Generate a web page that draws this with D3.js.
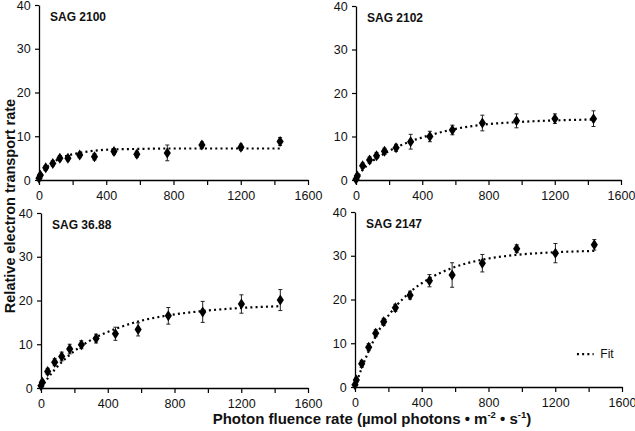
<!DOCTYPE html>
<html><head><meta charset="utf-8">
<script src="https://cdn.jsdelivr.net/npm/d3@7"></script>
<style>body{margin:0;background:#fff}svg{display:block}</style>
</head><body>
<svg id="c" width="635" height="431"></svg>
<script>
const xVals = [0, 8, 40, 82, 124, 172, 242, 330, 446, 582, 763, 969, 1201, 1434];
const fitX = [0, 40, 82, 124, 172, 242, 330, 446, 582, 763, 969, 1201, 1434];
const panelNames = ["SAG 2100", "SAG 2102", "SAG 36.88", "SAG 2147"];
const yS2100 = [0.4, 1.1, 2.8, 3.8, 5.0, 5.0, 5.7, 5.3, 6.5, 5.9, 6.2, 8.0, 7.5, 8.8];
const eS2100 = [0.3, 0.4, 0.5, 0.6, 0.6, 0.6, 0.6, 0.7, 0.7, 0.7, 1.8, 0.7, 0.7, 0.9];
const fS2100 = [0, 2.6, 4.0, 4.9, 5.6, 6.2, 6.7, 7.0, 7.1, 7.2, 7.2, 7.2, 7.2];
const yS2102 = [0.2, 0.9, 3.3, 4.6, 5.6, 6.6, 7.4, 8.8, 10.0, 11.5, 13.1, 13.6, 14.1, 14.1];
const eS2102 = [0.3, 0.5, 0.6, 0.7, 0.7, 0.7, 0.8, 1.7, 1.2, 1.1, 1.8, 1.6, 1.1, 1.8];
const fS2102 = [0, 2.3, 3.8, 5.0, 6.1, 7.5, 8.9, 10.3, 11.6, 12.7, 13.3, 13.7, 13.9];
const yS3688 = [0.5, 1.3, 3.8, 5.9, 7.2, 8.9, 9.9, 11.3, 12.4, 13.4, 16.5, 17.4, 19.2, 20.1];
const eS3688 = [0.3, 0.5, 0.7, 0.8, 1.0, 1.1, 0.9, 1.0, 1.5, 1.5, 1.9, 2.4, 2.1, 2.4];
const fS3688 = [0, 2.2, 4.2, 5.9, 7.6, 9.6, 11.6, 13.5, 15.2, 16.6, 17.6, 18.3, 18.7];
const yS2147 = [0.5, 1.6, 5.3, 9.1, 12.3, 14.9, 18.1, 21.0, 24.3, 25.6, 28.3, 31.6, 30.6, 32.5];
const eS2147 = [0.4, 0.6, 0.8, 0.8, 0.8, 0.8, 0.8, 0.9, 1.4, 2.8, 2.0, 0.9, 2.2, 1.2];
const fS2147 = [0, 4.3, 8.2, 11.6, 14.8, 18.3, 21.7, 24.8, 27.2, 29.1, 30.2, 30.8, 31.1];
const xTickLabels = ["0", "400", "800", "1200", "1600"];
const yTickLabels = ["0", "10", "20", "30", "40"];

const svg = d3.select("#c");
const font = "Arial, 'Liberation Sans', sans-serif";
const panels = [
  {name: panelNames[0], y: yS2100, e: eS2100, f: fS2100, x0: 39, x1: 308, yt: 5, yb: 180},
  {name: panelNames[1], y: yS2102, e: eS2102, f: fS2102, x0: 356, x1: 621, yt: 6, yb: 180},
  {name: panelNames[2], y: yS3688, e: eS3688, f: fS3688, x0: 41, x1: 308, yt: 213, yb: 388},
  {name: panelNames[3], y: yS2147, e: eS2147, f: fS2147, x0: 355, x1: 622, yt: 212, yb: 387, legend: true}
];

panels.forEach(p => {
  const x = d3.scaleLinear().domain([0, 1600]).range([p.x0, p.x1]);
  const y = d3.scaleLinear().domain([0, 40]).range([p.yb, p.yt]);
  const g = svg.append("g");

  const xa = g.append("g").attr("transform", `translate(0,${p.yb})`)
    .call(d3.axisBottom(x).tickValues(d3.range(0, 1601, 200)).tickSize(5).tickSizeOuter(0)
      .tickFormat(d => xTickLabels.includes(String(d)) && d % 400 === 0 ? String(d) : ""));
  const ya = g.append("g").attr("transform", `translate(${p.x0},0)`)
    .call(d3.axisLeft(y).tickValues(yTickLabels.map(Number)).tickSize(4).tickSizeOuter(0)
      .tickFormat(d => String(d)));
  [xa, ya].forEach(a => {
    a.select(".domain").attr("stroke", "#000").attr("stroke-width", 1.3);
    a.selectAll(".tick line").attr("stroke", "#000").attr("stroke-width", 1.2);
    a.selectAll("text").attr("font-family", font).attr("font-size", 12.5).attr("fill", "#111");
  });
  xa.selectAll("text").attr("dy", "0.95em");
  ya.selectAll("text").attr("dx", "-0.1em");

  // fit line
  const line = d3.line().x((d, i) => x(fitX[i])).y(d => y(d)).curve(d3.curveMonotoneX);
  g.append("path").datum(p.f).attr("d", line)
    .attr("fill", "none").attr("stroke", "#000").attr("stroke-width", 2.2)
    .attr("stroke-dasharray", "2,3.2");

  // error bars
  const eb = g.append("g");
  xVals.forEach((xv, i) => {
    const cx = x(xv), lo = y(p.y[i] - p.e[i]), hi = y(p.y[i] + p.e[i]);
    eb.append("line").attr("x1", cx).attr("x2", cx).attr("y1", lo).attr("y2", hi).attr("stroke", "#222").attr("stroke-width", 1);
    eb.append("line").attr("x1", cx - 2).attr("x2", cx + 2).attr("y1", lo).attr("y2", lo).attr("stroke", "#222").attr("stroke-width", 1);
    eb.append("line").attr("x1", cx - 2).attr("x2", cx + 2).attr("y1", hi).attr("y2", hi).attr("stroke", "#222").attr("stroke-width", 1);
  });

  // markers (tall diamonds)
  g.append("g").selectAll("path").data(xVals).join("path")
    .attr("d", "M0,-5.5L3.6,0L0,5.5L-3.6,0Z")
    .attr("transform", (d, i) => `translate(${x(d)},${y(p.y[i])})`)
    .attr("fill", "#000");

  g.append("text").attr("x", p.x0 + 11).attr("y", p.yt + 16)
    .attr("font-family", font).attr("font-weight", "bold").attr("font-size", 12)
    .attr("fill", "#111").text(p.name);

  if (p.legend) {
    const ly = y(7.5);
    g.append("line").attr("x1", x(1330)).attr("x2", x(1430)).attr("y1", ly).attr("y2", ly)
      .attr("stroke", "#000").attr("stroke-width", 2.2).attr("stroke-dasharray", "2,3.2");
    g.append("text").attr("x", x(1470)).attr("y", ly + 4)
      .attr("font-family", font).attr("font-size", 12).attr("fill", "#111").text("Fit");
  }
});

svg.append("text").attr("transform", "translate(15,206) rotate(-90)")
  .attr("text-anchor", "middle").attr("font-family", font).attr("font-weight", "bold")
  .attr("font-size", 14.5).attr("fill", "#111").text("Relative electron transport rate");

const xt = svg.append("text").attr("x", 372).attr("y", 424).attr("text-anchor", "middle")
  .attr("font-family", font).attr("font-weight", "bold").attr("font-size", 15).attr("fill", "#111");
xt.append("tspan").text("Photon fluence rate (µmol photons • m");
xt.append("tspan").attr("font-size", 9.5).attr("dy", -6).text("-2");
xt.append("tspan").attr("dy", 6).text(" • s");
xt.append("tspan").attr("font-size", 9.5).attr("dy", -6).text("-1");
xt.append("tspan").attr("dy", 6).text(")");
</script>
</body></html>
